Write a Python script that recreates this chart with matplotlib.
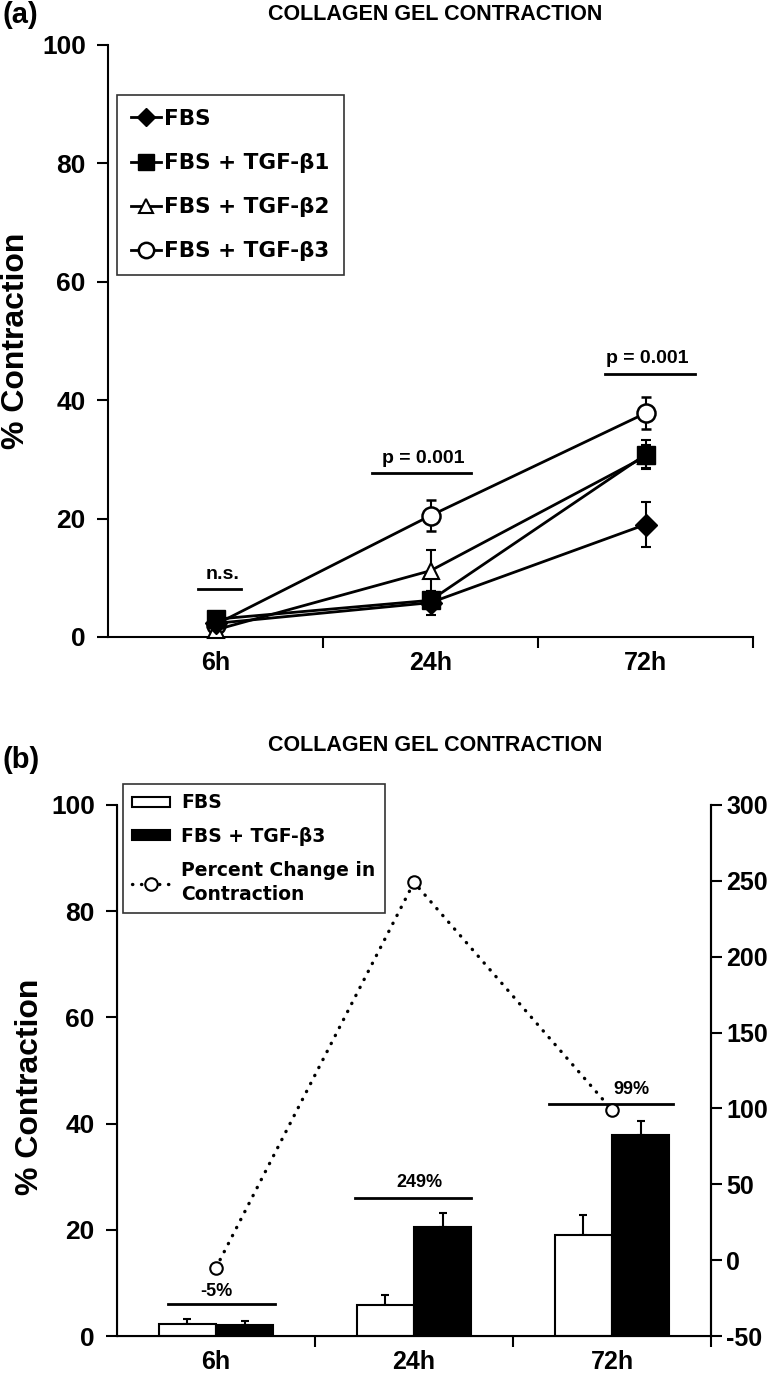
import matplotlib
matplotlib.use("Agg")
import matplotlib.pyplot as plt
from matplotlib.lines import Line2D
from matplotlib.patches import Patch
import numpy as np

plt.rcParams['font.family'] = ['Liberation Sans', 'DejaVu Sans']
plt.rcParams['font.weight'] = 'bold'
plt.rcParams['axes.unicode_minus'] = False

# ---------------- data ----------------
times = ["6h", "24h", "72h"]

fbs = [2.3, 5.8, 19.0]
fbs_err = [0.9, 2.0, 3.8]
tgf_b1 = [3.0, 6.2, 30.8]
tgf_b1_err = [0.5, 0.8, 2.5]
tgf_b2 = [1.2, 11.2, 30.5]
tgf_b2_err = [0.5, 3.5, 2.0]
tgf_b3 = [2.1, 20.5, 37.8]
tgf_b3_err = [0.7, 2.6, 2.7]

pct_change = [-5, 249, 99]
pct_labels = ["-5%", "249%", "99%"]
sig_labels_a = ["n.s.", "p = 0.001", "p = 0.001"]

W, H = 774, 1377
fig = plt.figure(figsize=(W / 100, H / 100), dpi=100)


def box(x0, y0, x1, y1):
    return [x0 / W, 1 - y1 / H, (x1 - x0) / W, (y1 - y0) / H]


TICK_FS = 19
LEG_FONT = dict(family='DejaVu Sans', weight='bold')
x = np.arange(len(times))

# ---------------- panel (a) ----------------
ax = fig.add_axes(box(108, 45, 753, 637))
series = {
    "FBS": (fbs, fbs_err, dict(marker='D', ms=11, mfc='black', mec='black')),
    "FBS + TGF-β1": (tgf_b1, tgf_b1_err, dict(marker='s', ms=13, mfc='black', mec='black')),
    "FBS + TGF-β2": (tgf_b2, tgf_b2_err, dict(marker='^', ms=12, mfc='white', mec='black', mew=1.5)),
    "FBS + TGF-β3": (tgf_b3, tgf_b3_err, dict(marker='o', ms=13, mfc='white', mec='black', mew=1.8)),
}
draw_order = ["FBS + TGF-β3", "FBS + TGF-β2", "FBS", "FBS + TGF-β1"]
for z, lab in enumerate(draw_order):
    vals, errs, mk = series[lab]
    ax.errorbar(x, vals, yerr=errs, color='black', lw=2, elinewidth=1.5,
                capsize=3.5, capthick=1.5, clip_on=False, zorder=3 + z, **mk)
handles = [Line2D([0], [0], color='black', lw=2, label=lab, **series[lab][2])
           for lab in ["FBS", "FBS + TGF-β1", "FBS + TGF-β2", "FBS + TGF-β3"]]

ax.set_xlim(-0.5, 2.5)
ax.set_ylim(0, 100)
ax.set_yticks(np.arange(0, 101, 20))
ax.set_xticks([0.5, 1.5, 2.5])
ax.set_xticklabels([])
ax.set_xticks(x, minor=True)
ax.set_xticklabels(times, minor=True)
ax.tick_params(axis='x', which='minor', length=0, pad=10, labelsize=TICK_FS - 1)
ax.tick_params(axis='x', which='major', length=8, width=1.5, direction='out')
ax.tick_params(axis='y', length=8, width=1.5, direction='out', pad=8, labelsize=TICK_FS)
for s in ['top', 'right']:
    ax.spines[s].set_visible(False)
for s in ['left', 'bottom']:
    ax.spines[s].set_linewidth(1.5)
ax.set_ylabel("% Contraction", fontsize=23, fontweight='bold')
ax.yaxis.set_label_coords((31 - 108) / 645, 0.5)

# significance bars (a)
sig_a = [(-0.08, 0.12, 8.1, 0.035, 10.5), (-0.27, 0.19, 27.7, -0.035, 30.2),
         (-0.19, 0.23, 44.4, 0.01, 47.1)]
for i, (l, r, yv, tx, ty) in enumerate(sig_a):
    ax.plot([x[i] + l, x[i] + r], [yv, yv], color='black', lw=2)
    ax.text(x[i] + tx, ty, sig_labels_a[i], ha='center', va='center',
            fontsize=14, fontweight='bold')

leg = ax.legend(handles=handles, loc='upper left', bbox_to_anchor=(9 / 645, 1 - 50 / 592),
                frameon=True, fancybox=False, edgecolor='black',
                prop=dict(size=15.5, **LEG_FONT),
                handlelength=1.4, handletextpad=0.15, labelspacing=1.12,
                borderpad=0.65, markerscale=0.85, borderaxespad=0)
leg.get_frame().set_linewidth(1.2)

fig.text(435 / W, 1 - 14 / H, "COLLAGEN GEL CONTRACTION", ha='center', va='center',
         fontsize=15.5, fontweight='bold')
fig.text(2 / W, 1 - 15 / H, "(a)", ha='left', va='center', fontsize=21, fontweight='bold')

# ---------------- panel (b) ----------------
bx = fig.add_axes(box(117, 805, 711, 1336))
bw = 0.29
bx.bar(x - bw / 2, fbs, bw, color='white', edgecolor='black', lw=1.5, zorder=2)
bx.bar(x + bw / 2, tgf_b3, bw, color='black', edgecolor='black', lw=1.5, zorder=2)
bx.errorbar(x - bw / 2, fbs, yerr=[np.zeros(3), fbs_err], fmt='none', ecolor='black',
            elinewidth=1.5, capsize=3, capthick=1.5, zorder=1)
bx.errorbar(x + bw / 2, tgf_b3, yerr=[np.zeros(3), tgf_b3_err], fmt='none', ecolor='black',
            elinewidth=1.5, capsize=3, capthick=1.5, zorder=1)

bx.set_xlim(-0.5, 2.5)
bx.set_ylim(0, 100)
bx.set_yticks(np.arange(0, 101, 20))
bx.set_xticks([0.5, 1.5, 2.5])
bx.set_xticklabels([])
bx.set_xticks(x, minor=True)
bx.set_xticklabels(times, minor=True)
bx.tick_params(axis='x', which='minor', length=0, pad=10, labelsize=TICK_FS - 1)
bx.tick_params(axis='x', which='major', length=8, width=1.5, direction='out')
bx.tick_params(axis='y', length=8, width=1.5, direction='out', pad=8, labelsize=TICK_FS)
bx.spines['top'].set_visible(False)
for s in ['left', 'bottom', 'right']:
    bx.spines[s].set_linewidth(1.5)
bx.set_ylabel("% Contraction", fontsize=23, fontweight='bold')
bx.yaxis.set_label_coords((45 - 117) / 594, 0.47)

sig_b = [(-0.24, 0.30, 6.0, 0.0, 8.3), (-0.30, 0.29, 26.0, 0.025, 28.9),
         (-0.32, 0.31, 43.7, 0.10, 46.4)]
for i, (l, r, yv, tx, ty) in enumerate(sig_b):
    bx.plot([x[i] + l, x[i] + r], [yv, yv], color='black', lw=2, zorder=3)
    bx.text(x[i] + tx, ty, pct_labels[i], ha='center', va='center',
            fontsize=13, fontweight='bold')

rx = bx.twinx()
rx.set_ylim(-50, 300)
rx.set_yticks(np.arange(-50, 301, 50))
rx.tick_params(axis='y', length=8, width=1.5, direction='out', pad=3, labelsize=18)
rx.spines['top'].set_visible(False)
rx.spines['right'].set_linewidth(1.5)
dot = (0, (0.1, 2.6))
rx.plot(x, pct_change, linestyle=dot, dash_capstyle='round', color='black', lw=2.4,
        marker='o', ms=9, mfc='white', mec='black', mew=1.5, zorder=4, clip_on=False)

hb = [Patch(facecolor='white', edgecolor='black', lw=1.5, label="FBS"),
      Patch(facecolor='black', edgecolor='black', lw=1.5, label="FBS + TGF-β3"),
      Line2D([0], [0], linestyle=dot, dash_capstyle='round', color='black', lw=2.4,
             marker='o', ms=9, mfc='white', mec='black', mew=1.5,
             label="Percent Change in\nContraction")]
legb = rx.legend(handles=hb, loc='upper left', bbox_to_anchor=(6 / 594, 1 + 21 / 531),
                 frameon=True, fancybox=False, edgecolor='black',
                 prop=dict(size=13.5, **LEG_FONT),
                 handlelength=2.0, handleheight=0.45, handletextpad=0.6, labelspacing=0.78,
                 borderpad=0.5, borderaxespad=0)
for t in legb.get_texts():
    t.set_linespacing(1.35)
legb.get_frame().set_linewidth(1.2)

fig.text(435 / W, 1 - 745 / H, "COLLAGEN GEL CONTRACTION", ha='center', va='center',
         fontsize=15.5, fontweight='bold')
fig.text(2 / W, 1 - 760 / H, "(b)", ha='left', va='center', fontsize=21, fontweight='bold')

fig.savefig("out.png", dpi=100)
